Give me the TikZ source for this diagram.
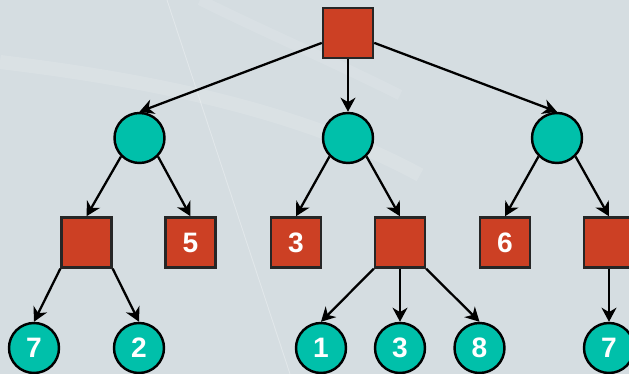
\documentclass[tikz,border=0pt]{standalone}
\usepackage{fontspec}
\setmainfont{Liberation Sans}
\usetikzlibrary{arrows.meta}

\definecolor{bgcol}{RGB}{213,221,225}
\definecolor{maxred}{RGB}{204,64,36}
\definecolor{chanceteal}{RGB}{0,192,170}

\tikzset{
  maxbox/.style={draw=black!85, line width=1.4pt, fill=maxred, minimum size=1.0cm,
    inner sep=0pt, text=white, font=\bfseries\fontsize{16}{16}\selectfont},
  chancenode/.style={circle, draw=black, line width=1.4pt, fill=chanceteal, minimum size=1.0cm,
    inner sep=0pt, text=white, font=\bfseries\fontsize{16}{16}\selectfont},
  link/.style={-{Stealth[length=8pt,width=8.5pt,inset=2.5pt]}, line width=1.3pt}
}

\begin{document}
\begin{tikzpicture}[x=0.02cm, y=-0.02cm]
  % Frame and backdrop
  \clip (0,0) rectangle (629,374);
  \fill[bgcol] (0,0) rectangle (629,374);
  \draw[white, opacity=0.12, line width=8pt] (0,62) .. controls (150,80) and (300,110) .. (420,175);
  \draw[white, opacity=0.1, line width=6pt] (200,0) .. controls (260,30) and (330,60) .. (400,95);
  \draw[white, opacity=0.3, line width=0.5pt] (167,0) -- (290,374);

  % Root (max)
  \node[maxbox] (root) at (348,33) {};

  % Chance level
  \node[chancenode] (c1) at (139.5,138) {};
  \node[chancenode] (c2) at (348,138) {};
  \node[chancenode] (c3) at (557,138) {};

  % Max level
  \node[maxbox] (s1) at (86.5,242.5) {};
  \node[maxbox] (s2) at (190.5,242.5) {5};
  \node[maxbox] (s3) at (296,242.5) {3};
  \node[maxbox] (s4) at (400,242.5) {};
  \node[maxbox] (s5) at (505,242.5) {6};
  \node[maxbox] (s6) at (609,242.5) {};

  % Leaves
  \node[chancenode] (l1) at (34,348) {7};
  \node[chancenode] (l2) at (139,348) {2};
  \node[chancenode] (l3) at (321,348) {1};
  \node[chancenode] (l4) at (400,348) {3};
  \node[chancenode] (l5) at (479.5,348) {8};
  \node[chancenode] (l6) at (609,348) {7};

  % Edges
  \draw[link] (root) -- (c1.north);
  \draw[link] (root) -- (c2.north);
  \draw[link] (root) -- (c3.north);

  \draw[link] (c1.south west) -- (s1.north);
  \draw[link] (c1.south east) -- (s2.north);
  \draw[link] (c2.south west) -- (s3.north);
  \draw[link] (c2.south east) -- (s4.north);
  \draw[link] (c3.south west) -- (s5.north);
  \draw[link] (c3.south east) -- (s6.north);

  \draw[link] (s1.south west) -- (l1.north);
  \draw[link] (s1.south east) -- (l2.north);
  \draw[link] (s4.south west) -- (l3.north);
  \draw[link] (s4) -- (l4);
  \draw[link] (s4.south east) -- (l5.north);
  \draw[link] (s6) -- (l6);
\end{tikzpicture}
\end{document}
